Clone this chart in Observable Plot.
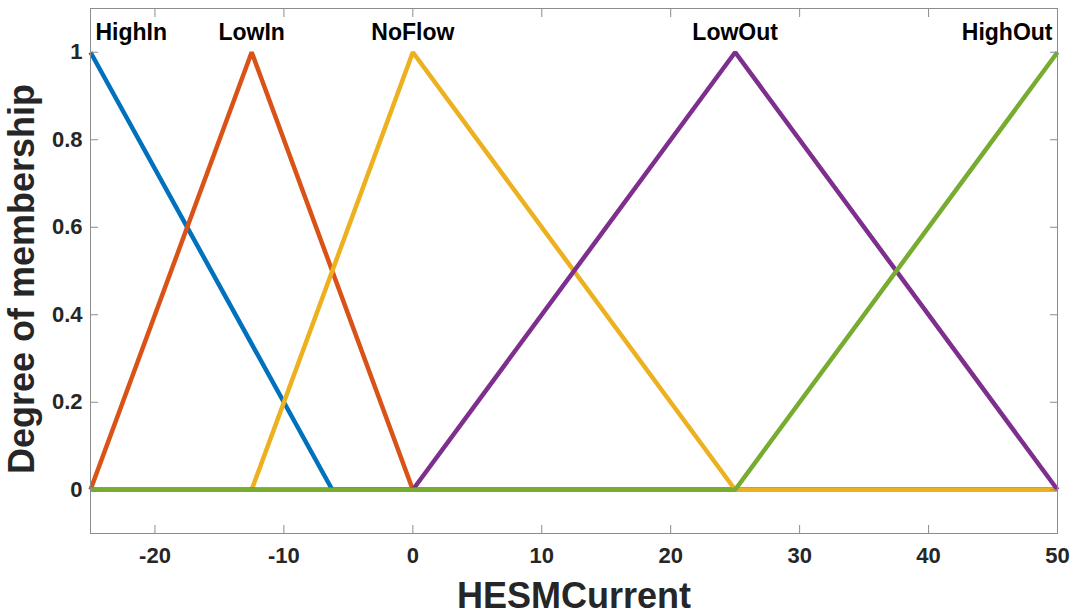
<!DOCTYPE html>
<html>
<head>
<meta charset="utf-8">
<script src="https://cdn.jsdelivr.net/npm/d3@7"></script>
<script src="https://cdn.jsdelivr.net/npm/@observablehq/plot@0.6"></script>
<style>
  html, body { margin: 0; padding: 0; background: #fff; }
  #chart svg { font-family: "Liberation Sans", Arial, sans-serif; }
</style>
</head>
<body>
<div id="chart"></div>
<script>
// Membership function names, colours and breakpoints
const mfNames = ["HighIn", "LowIn", "NoFlow", "LowOut", "HighOut"];
const mfColors = ["#0072BD", "#D95319", "#EDB120", "#7E2F8E", "#77AC30"];
const highInX = [-25, -6.25, 50];
const highInY = [1, 0, 0];
const lowInX = [-25, -12.5, 0, 50];
const lowInY = [0, 1, 0, 0];
const noFlowX = [-25, -12.5, 0, 25, 50];
const noFlowY = [0, 0, 1, 0, 0];
const lowOutX = [-25, 0, 25, 50];
const lowOutY = [0, 0, 1, 0];
const highOutX = [-25, 25, 50];
const highOutY = [0, 0, 1];
const mfPeaks = [-25, -12.5, 0, 25, 50];
const xTicks = [-20, -10, 0, 10, 20, 30, 40, 50];
const xTickLabels = ["-20", "-10", "0", "10", "20", "30", "40", "50"];
const yTicks = [0, 0.2, 0.4, 0.6, 0.8, 1];
const yTickLabels = ["0", "0.2", "0.4", "0.6", "0.8", "1"];
const xLabel = "HESMCurrent";
const yLabel = "Degree of membership";

const seriesX = [highInX, lowInX, noFlowX, lowOutX, highOutX];
const seriesY = [highInY, lowInY, noFlowY, lowOutY, highOutY];
const series = mfNames.map((name, i) => seriesX[i].map((x, j) => ({name, x, y: seriesY[i][j]})));

const labelRows = mfNames.map((name, i) => ({name, x: mfPeaks[i], y: 1.045,
  anchor: i === 0 ? "start" : (i === mfNames.length - 1 ? "end" : "middle")}));

const lineMarks = series.map((rows, i) => Plot.line(rows, {x: "x", y: "y", stroke: mfColors[i], strokeWidth: 4.5, strokeLinejoin: "miter", strokeLinecap: "butt"}));

const textMark = (anchor, dx) => Plot.text(labelRows.filter(d => d.anchor === anchor), {
  x: "x", y: "y", text: "name", textAnchor: anchor, dx, fontSize: 23, fontWeight: "bold", fill: "#000",
  style: "letter-spacing:0.6px"
});

const tickFmtY = d => yTickLabels[yTicks.indexOf(d)] ?? "";
const tickFmtX = d => xTickLabels[xTicks.indexOf(d)] ?? "";

const plot = Plot.plot({
  width: 1074,
  height: 615,
  marginLeft: 90,
  marginRight: 17,
  marginTop: 8,
  marginBottom: 82,
  style: {fontFamily: "Liberation Sans, Arial, sans-serif"},
  x: {domain: [-25, 50]},
  y: {domain: [-0.1, 1.1]},
  marks: [
    ...lineMarks,
    textMark("start", 5),
    textMark("middle", 0),
    textMark("end", -5),
    Plot.frame({stroke: "#8c8c8c", strokeWidth: 1}),
    // inward tick marks
    Plot.axisX(xTicks, {anchor: "bottom", tickSize: -8, tickFormat: () => "", label: null, stroke: "#8c8c8c"}),
    Plot.axisX(xTicks, {anchor: "top", tickSize: -8, tickFormat: () => "", label: null, stroke: "#8c8c8c"}),
    Plot.axisY(yTicks, {anchor: "left", tickSize: -8, tickFormat: () => "", label: null, stroke: "#8c8c8c"}),
    Plot.axisY(yTicks, {anchor: "right", tickSize: -8, tickFormat: () => "", label: null, stroke: "#8c8c8c"}),
    // tick labels + axis titles
    Plot.axisX(xTicks, {anchor: "bottom", tickSize: 0, tickPadding: 14, tickFormat: tickFmtX, fontSize: 22, fontWeight: "bold", fill: "#262626",
      label: xLabel, labelAnchor: "center", labelArrow: "none", labelOffset: 74}),
    Plot.axisY(yTicks, {anchor: "left", tickSize: 0, tickPadding: 8, tickFormat: tickFmtY, fontSize: 22, fontWeight: "bold", fill: "#262626",
      label: yLabel, labelAnchor: "center", labelArrow: "none", labelOffset: 82})
  ]
});
document.getElementById("chart").appendChild(plot);

// enlarge axis titles
plot.querySelectorAll("g[aria-label='x-axis label'] text, g[aria-label='y-axis label'] text").forEach(t => {
  t.setAttribute("font-size", 36);
  t.setAttribute("font-weight", "bold");
  t.setAttribute("fill", "#262626");
});
plot.querySelectorAll("g[aria-label='y-axis label'] text").forEach(t => t.setAttribute("dx", -8));
</script>
</body>
</html>
